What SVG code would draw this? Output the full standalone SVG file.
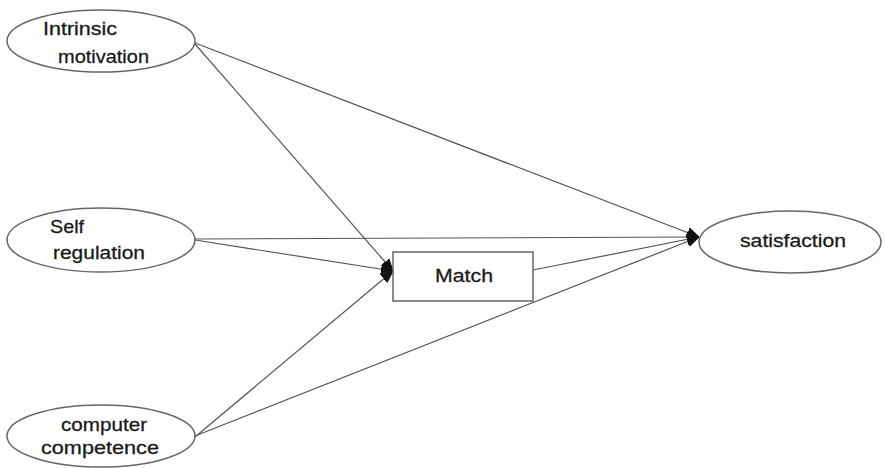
<svg xmlns="http://www.w3.org/2000/svg" width="885" height="468" viewBox="0 0 885 468">
  <style>
    .node { fill: #ffffff; stroke: #666666; stroke-width: 1.5; }
    .label { font-family: "Liberation Sans", Arial, sans-serif; font-size: 19px; fill: #1a1a1a; stroke: #1a1a1a; stroke-width: 0.3; }
    .edge { stroke: #555555; stroke-width: 1.2; fill: none; marker-end: url(#head); }
  </style>
  <defs>
    <marker id="head" viewBox="0 0 12 12" refX="12" refY="6" markerWidth="12" markerHeight="12" markerUnits="userSpaceOnUse" orient="auto">
      <path d="M0,1 L12,6 L0,11 Z" fill="#111111" stroke="#111111" stroke-width="1" stroke-linejoin="round"/>
    </marker>
  </defs>
  <rect width="885" height="468" fill="#ffffff"/>

  <!-- connectors -->
  <g id="connectors">
    <line class="edge" x1="195" y1="43" x2="699" y2="237"/>
    <line class="edge" x1="195" y1="44" x2="393" y2="271"/>
    <line class="edge" x1="195" y1="239" x2="699" y2="237"/>
    <line class="edge" x1="195" y1="240" x2="393" y2="271"/>
    <line class="edge" x1="195" y1="437" x2="393" y2="271"/>
    <line class="edge" x1="195" y1="436" x2="699" y2="237"/>
    <line class="edge" x1="533" y1="270" x2="699" y2="237"/>
  </g>

  <g id="intrinsic-motivation">
    <ellipse class="node" cx="101" cy="41" rx="94" ry="31"/>
    <text class="label" x="43" y="35" textLength="74" lengthAdjust="spacingAndGlyphs">Intrinsic</text>
    <text class="label" x="58" y="63" textLength="91" lengthAdjust="spacingAndGlyphs">motivation</text>
  </g>

  <g id="self-regulation">
    <ellipse class="node" cx="101" cy="240" rx="94" ry="32"/>
    <text class="label" x="50" y="233" textLength="34" lengthAdjust="spacingAndGlyphs">Self</text>
    <text class="label" x="53" y="259" textLength="92" lengthAdjust="spacingAndGlyphs">regulation</text>
  </g>

  <g id="computer-competence">
    <ellipse class="node" cx="101" cy="436" rx="94" ry="31"/>
    <text class="label" x="61" y="431" textLength="86" lengthAdjust="spacingAndGlyphs">computer</text>
    <text class="label" x="41" y="454" textLength="118" lengthAdjust="spacingAndGlyphs">competence</text>
  </g>

  <g id="match">
    <rect class="node" x="393" y="252" width="140" height="49"/>
    <text class="label" x="435" y="282" textLength="58" lengthAdjust="spacingAndGlyphs">Match</text>
  </g>

  <g id="satisfaction">
    <ellipse class="node" cx="790" cy="242" rx="91" ry="31"/>
    <text class="label" x="740" y="247" textLength="106" lengthAdjust="spacingAndGlyphs">satisfaction</text>
  </g>
</svg>
